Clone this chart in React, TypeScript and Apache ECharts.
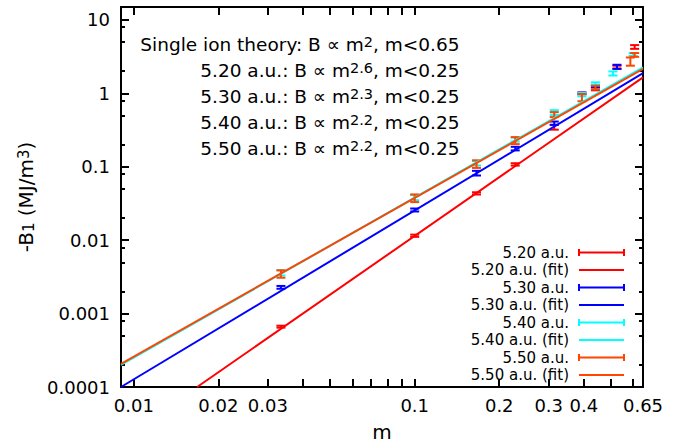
import React, { useEffect, useRef } from 'react';
import * as echarts from 'echarts';

const FONT = 'DejaVu Sans';

const seriesNames = ['5.20 a.u.', '5.30 a.u.', '5.40 a.u.', '5.50 a.u.'];
const seriesColors = ['#ff0000', '#0000ff', '#00ffff', '#ff4500'];

// [m, -B1 (MJ/m^3), error]
const data520 = [
  [0.0334, 0.000664, 0.00002],
  [0.1, 0.0115, 0.0004],
  [0.166, 0.0434, 0.0015],
  [0.228, 0.1077, 0.004],
  [0.314, 0.345, 0.025],
  [0.44, 1.16, 0.06],
  [0.525, 2.28, 0.1],
  [0.607, 4.29, 0.25],
];
const data530 = [
  [0.0334, 0.00228, 0.0001],
  [0.1, 0.0258, 0.0012],
  [0.166, 0.082, 0.006],
  [0.228, 0.177, 0.01],
  [0.314, 0.393, 0.02],
  [0.394, 1.0, 0.03],
  [0.44, 1.25, 0.05],
  [0.525, 2.3, 0.15],
];
const data540 = [
  [0.0334, 0.0036, 0.0003],
  [0.1, 0.038, 0.003],
  [0.166, 0.112, 0.008],
  [0.228, 0.235, 0.015],
  [0.314, 0.55, 0.04],
  [0.394, 0.96, 0.05],
  [0.44, 1.36, 0.05],
  [0.508, 1.87, 0.12],
  [0.6, 3.39, 0.15],
];
const data550 = [
  [0.0334, 0.00348, 0.0004],
  [0.1, 0.0375, 0.0045],
  [0.166, 0.1094, 0.013],
  [0.228, 0.2285, 0.025],
  [0.314, 0.515, 0.04],
  [0.394, 0.88, 0.1],
  [0.44, 1.2, 0.07],
  [0.586, 2.73, 0.35],
  [0.607, 3.34, 0.2],
];

// fit lines: end points [m, -B1]
const fit520 = [[0.0168, 0.0001], [0.65, 1.65]];
const fit530 = [[0.009, 0.0001], [0.65, 1.88]];
const fit540 = [[0.009, 0.0002], [0.65, 2.25]];
const fit550 = [[0.009, 0.000207], [0.65, 2.15]];

const xLabelValues = [0.01, 0.02, 0.03, 0.1, 0.2, 0.3, 0.4, 0.65];
const xTickValues = [0.01, 0.02, 0.03, 0.04, 0.05, 0.06, 0.07, 0.08, 0.09, 0.1, 0.2, 0.3, 0.4, 0.5, 0.6];
const yLabelValues = [0.0001, 0.001, 0.01, 0.1, 1, 10];
const yMinorValues = [
  0.0002, 0.0005, 0.0008, 0.002, 0.005, 0.008, 0.02, 0.05, 0.08,
  0.2, 0.5, 0.8, 2, 5, 8,
];

const theoryLabel = 'Single ion theory';
const theoryExponent = '2';
const theoryRange = 'm<0.65';
const fitExponents = ['2.6', '2.3', '2.2', '2.2'];
const fitRange = 'm<0.25';

const allData = [data520, data530, data540, data550];
const allFits = [fit520, fit530, fit540, fit550];

function errorSeries(name: string, data: number[][], color: string) {
  return {
    type: 'custom',
    name,
    data,
    xAxisIndex: 0,
    yAxisIndex: 0,
    encode: { x: 0, y: 1 },
    renderItem: (_params: any, api: any) => {
      const m = api.value(0);
      const b = api.value(1);
      const e = api.value(2);
      const hi = api.coord([m, b + e]);
      const lo = api.coord([m, b - e]);
      const w = 4.5;
      const st = { stroke: color, lineWidth: 2 };
      return {
        type: 'group',
        children: [
          { type: 'line', shape: { x1: hi[0], y1: hi[1], x2: lo[0], y2: lo[1] }, style: st },
          { type: 'line', shape: { x1: hi[0] - w, y1: hi[1], x2: hi[0] + w, y2: hi[1] }, style: st },
          { type: 'line', shape: { x1: lo[0] - w, y1: lo[1], x2: lo[0] + w, y2: lo[1] }, style: st },
        ],
      };
    },
  };
}

function fitSeries(name: string, data: number[][], color: string) {
  return {
    type: 'line',
    name,
    data,
    xAxisIndex: 0,
    yAxisIndex: 0,
    showSymbol: false,
    symbol: 'none',
    lineStyle: { color, width: 2 },
    clip: true,
  };
}

function buildOption() {
  const series: any[] = [];
  seriesNames.forEach((n, i) => {
    series.push(errorSeries(n, allData[i], seriesColors[i]));
    series.push(fitSeries(n + ' (fit)', allFits[i], seriesColors[i]));
  });

  const graphic: any[] = [];
  // legend
  let row = 0;
  seriesNames.forEach((n, i) => {
    [true, false].forEach((isErr) => {
      const y = 252.5 + row * 17.5;
      graphic.push({
        type: 'text',
        x: 569,
        y,
        style: {
          text: isErr ? n : n + ' (fit)',
          fill: '#000',
          fontSize: 15,
          fontFamily: FONT,
          align: 'right',
          verticalAlign: 'middle',
        },
      });
      const st = { stroke: seriesColors[i], lineWidth: 2 };
      graphic.push({ type: 'line', shape: { x1: 579, y1: y, x2: 624, y2: y }, style: st });
      if (isErr) {
        graphic.push({ type: 'line', shape: { x1: 579, y1: y - 3.5, x2: 579, y2: y + 3.5 }, style: st });
        graphic.push({ type: 'line', shape: { x1: 624, y1: y - 3.5, x2: 624, y2: y + 3.5 }, style: st });
      }
      row++;
    });
  });

  // annotation
  const annLines = [`${theoryLabel}: B ∝ m{sup|${theoryExponent}}, ${theoryRange}`].concat(
    seriesNames.map((n, i) => `${n}: B ∝ m{sup|${fitExponents[i]}}, ${fitRange}`)
  );
  annLines.forEach((t, k) => {
    graphic.push({
      type: 'text',
      x: 459.5,
      y: 44 + k * 26,
      style: {
        text: t,
        fill: '#000',
        fontSize: 18.5,
        fontFamily: FONT,
        align: 'right',
        verticalAlign: 'middle',
        rich: {
          sup: { fontSize: 14.5, fontFamily: FONT, verticalAlign: 'top', fill: '#000' },
        },
      },
    });
  });

  const axisLine = { show: true, onZero: false, lineStyle: { color: '#000', width: 2 } };
  const xCommon: any = {
    type: 'log',
    logBase: 10,
    min: 0.009,
    max: 0.65,
    splitLine: { show: false },
    axisLine,
    axisTick: { show: true, inside: true, length: 8, customValues: xTickValues, lineStyle: { color: '#000', width: 2 } },
  };
  const yCommon: any = {
    type: 'log',
    logBase: 10,
    min: 0.0001,
    max: 15,
    splitLine: { show: false },
  };
  const majorTick = { show: true, inside: true, length: 8, customValues: yLabelValues, lineStyle: { color: '#000', width: 2 } };
  const minorTick = { show: true, inside: true, length: 4, customValues: yMinorValues, lineStyle: { color: '#000', width: 2 } };

  return {
    animation: false,
    backgroundColor: '#fff',
    textStyle: { fontFamily: FONT },
    grid: { left: 121, right: 45, top: 7, bottom: 56, containLabel: false },
    xAxis: [
      {
        ...xCommon,
        position: 'bottom',
        axisLabel: {
          customValues: xLabelValues,
          formatter: (v: number) => String(v),
          fontSize: 18,
          fontFamily: FONT,
          color: '#000',
          margin: 9,
        },
        name: 'm',
        nameLocation: 'middle',
        nameGap: 35,
        nameTextStyle: { fontSize: 20, fontFamily: FONT, color: '#000' },
      },
      { ...xCommon, position: 'top', axisLabel: { show: false } },
    ],
    yAxis: [
      {
        ...yCommon,
        position: 'left',
        axisLine,
        axisTick: majorTick,
        axisLabel: {
          customValues: yLabelValues,
          formatter: (v: number) => String(v),
          fontSize: 18,
          fontFamily: FONT,
          color: '#000',
          margin: 11,
        },
        name: '-B{sub|1} (MJ/m{sup|3})',
        nameLocation: 'middle',
        nameRotate: 90,
        nameGap: 80,
        nameTextStyle: {
          fontSize: 20,
          fontFamily: FONT,
          color: '#000',
          rich: {
            sub: { fontSize: 15, fontFamily: FONT, verticalAlign: 'bottom', color: '#000' },
            sup: { fontSize: 15, fontFamily: FONT, verticalAlign: 'top', color: '#000' },
          },
        },
      },
      { ...yCommon, position: 'left', axisLine: { show: false }, axisTick: minorTick, axisLabel: { show: false } },
      { ...yCommon, position: 'right', axisLine, axisTick: majorTick, axisLabel: { show: false } },
      { ...yCommon, position: 'right', axisLine: { show: false }, axisTick: minorTick, axisLabel: { show: false } },
    ],
    series,
    graphic,
  };
}

export default function App() {
  const ref = useRef<HTMLDivElement>(null);
  useEffect(() => {
    if (!ref.current) return;
    const chart = echarts.init(ref.current, null, { renderer: 'svg' });
    chart.setOption(buildOption() as any);
    return () => chart.dispose();
  }, []);
  return (
    <div
      ref={ref}
      style={{ position: 'fixed', left: 0, top: 0, width: 688, height: 447, background: '#fff' }}
    />
  );
}
